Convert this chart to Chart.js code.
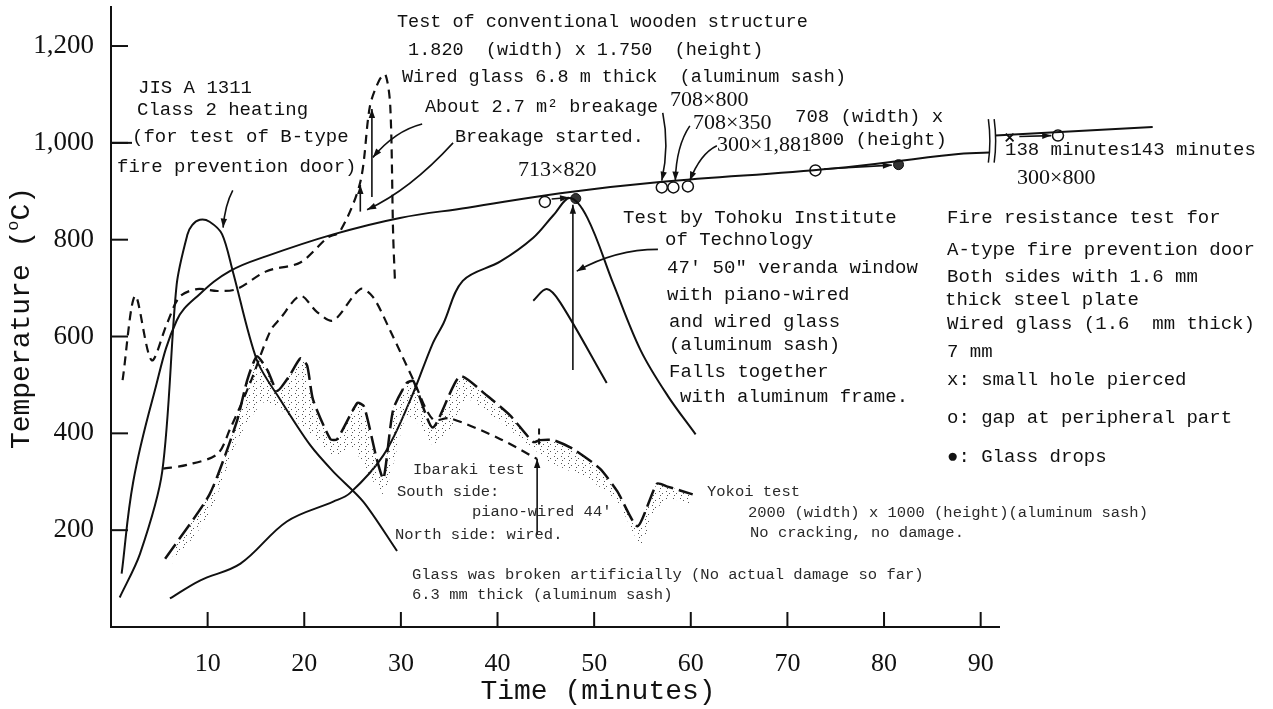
<!DOCTYPE html>
<html>
<head>
<meta charset="utf-8">
<script src="https://cdn.jsdelivr.net/npm/chart.js@4.4.1/dist/chart.umd.min.js"></script>
<style>
  html, body { margin: 0; padding: 0; background: #fff; }
  #wrap { width: 1273px; height: 709px; }
</style>
</head>
<body>
<div id="wrap"><canvas id="myChart" width="1273" height="709"></canvas></div>
<script>
// axis ticks
const xTicks = [10, 20, 30, 40, 50, 60, 70, 80, 90];
const yTicks = [200, 400, 600, 800, 1000, 1200];
const xAxisEnd = 92;

// standard heating curve (solid), before and after the axis break
const stdTime = [1.1, 2.3, 4.4, 6.8, 9.2, 12.3, 16.1, 23, 29.9, 36.9, 46.5, 56.8, 74.7, 87.2, 90.9];
const stdTemp = [110, 300, 478, 633, 688, 735, 766, 811, 845, 866, 896, 919, 947, 976, 980];
const stdTimeB = [91.5, 107.8];
const stdTempB = [1015, 1033];

// JIS A 1311 class 2 heating
const cls2Time = [0.9, 3.0, 5.3, 6.8, 7.9, 8.4, 9.2, 10.2, 11.5, 12.6, 15.1, 17.5, 20.6, 23, 26.1, 29.6];
const cls2Temp = [61, 151, 321, 708, 810, 830, 841, 837, 811, 735, 551, 470, 376, 321, 259, 157];

// conventional wooden structure test (dashed)
const woodTime = [1.2, 2.5, 4.2, 5.8, 7.1, 8.9, 11, 13, 16.1, 19.6, 22.4, 23.7, 25.8, 26.8, 27.8, 28.4, 28.9, 29.2, 29.4];
const woodTemp = [510, 684, 551, 627, 682, 698, 694, 698, 735, 753, 804, 817, 919, 1076, 1131, 1141, 1076, 810, 708];

// glass broken artificially (dashed)
const brokeTime = [5.4, 7.9, 11, 12.3, 14.4, 16.5, 17.5, 19.6, 21.3, 23, 25.8, 27.1, 28.9, 31.3, 33.3, 35.1, 40.3, 44.1];
const brokeTemp = [327, 335, 357, 408, 504, 612, 637, 684, 651, 633, 698, 682, 612, 510, 429, 431, 388, 347];

// Ibaraki / Yokoi test, upper (long dash) and lower edge of stippled band
const ibaTime = [5.6, 10.2, 13, 14.1, 15.1, 16.2, 17.2, 18.5, 19.6, 20.3, 20.9, 22.7, 23.4, 25.5, 26.2, 27.5, 28.2, 29.2, 30.6, 31.3, 33.3, 36.1, 38.9, 41.3, 43.7, 44.4, 45.8, 47.8, 50.6, 52.4, 54.5, 56.5, 57.6, 60.2];
const ibaTemp = [141, 274, 423, 510, 559, 530, 488, 520, 555, 540, 470, 388, 388, 463, 455, 347, 306, 449, 504, 508, 412, 518, 478, 437, 382, 386, 386, 368, 327, 280, 208, 296, 290, 274];
const bandTime = [6.4, 10.2, 13, 15.7, 17.5, 20.9, 23, 25, 26.5, 28.2, 29.2, 30.6, 32, 33.3, 35.1, 36.9, 40.3, 43.7, 45.4, 49.3, 52.4, 54.8, 56.1, 57.6, 59.9];
const bandTemp = [131, 233, 382, 463, 449, 396, 355, 368, 321, 274, 335, 437, 416, 376, 408, 470, 423, 368, 341, 306, 259, 171, 233, 265, 253];

// Tohoku Institute of Technology test
const tohoTime = [6.1, 9.2, 13.4, 18.2, 23, 24.7, 28.2, 31, 33.3, 34.4, 36.4, 40.3, 43.7, 45.8, 47.5, 49.3, 52, 54.8, 57.6, 60.5];
const tohoTemp = [59, 96, 131, 218, 259, 276, 355, 470, 586, 627, 715, 755, 804, 851, 886, 845, 708, 572, 478, 398];
const toho2Time = [43.7, 45.1, 46.5, 51.3];
const toho2Temp = [674, 698, 670, 504];

// event markers on the standard curve
const gapTime = [44.9, 57.0, 58.2, 59.7, 72.9, 98];
const gapTemp = [878, 908, 908, 910, 943, 1015];
const dropTime = [48.1, 81.5];
const dropTemp = [885, 955];
const holeTime = [93];
const holeTemp = [1011];

// arrows [t0, T0, t1, T1]
const arrows = [
  [25.8, 858, 25.8, 913],
  [27.0, 888, 27.0, 1070],
  [47.8, 531, 47.8, 872],
  [44.1, 192, 44.1, 347],
  [45.6, 884, 47.4, 887],
  [73.8, 946, 80.8, 954],
  [94.0, 1013, 97.3, 1015]
];
// curved leaders [t0, T0, tc, Tc, t1, T1]
const leaders = [
  [12.6, 902, 11.8, 872, 11.6, 825],
  [32.2, 1039, 29.4, 1025, 27.1, 970],
  [35.4, 1000, 30.9, 902, 26.5, 862],
  [57.1, 1062, 57.8, 994, 57.0, 922],
  [59.9, 1035, 58.5, 994, 58.4, 922],
  [62.7, 994, 61.0, 978, 59.9, 922],
  [56.6, 780, 52.2, 780, 48.2, 735]
];

const pts = (xs, ys) => xs.map((v, i) => ({x: v, y: ys[i]}));

function stipple() {
  const c = document.createElement('canvas');
  c.width = 7; c.height = 7;
  const g = c.getContext('2d');
  g.fillStyle = '#555';
  g.fillRect(1, 1, 1, 1);
  g.fillRect(4, 3, 1, 1);
  g.fillRect(2, 5, 1, 1);
  return g.createPattern(c, 'repeat');
}

const ink = '#111';
const mono = 'Liberation Mono';
const serif = 'Liberation Serif';

const lineDs = (data, extra) => Object.assign({
  data: data, borderColor: ink, borderWidth: 2, pointRadius: 0,
  tension: 0.3, fill: false
}, extra);

const texts = [
  // [text, x, y, size, family]
  ['Test of conventional wooden structure', 397, 22, 18.5, mono],
  [' 1.820  (width) x 1.750  (height)', 397, 50, 18.5, mono],
  ['Wired glass 6.8 m thick  (aluminum sash)', 402, 77, 18.5, mono],
  ['About 2.7 m\u00b2 breakage', 425, 107, 18.5, mono],
  ['Breakage started.', 455, 137, 18.5, mono],
  ['JIS A 1311', 138, 88, 19, mono],
  ['Class 2 heating', 137, 110, 19, mono],
  ['(for test of B-type', 132, 137, 19, mono],
  ['fire prevention door)', 117, 167, 19, mono],
  ['713\u00d7820', 518, 170, 22, serif],
  ['708\u00d7800', 670, 100, 22, serif],
  ['708\u00d7350', 693, 123, 22, serif],
  ['300\u00d71,881', 717, 145, 22, serif],
  ['708 (width) x', 795, 117, 19, mono],
  ['800 (height)', 810, 140, 19, mono],
  ['138 minutes143 minutes', 1005, 150, 19, mono],
  ['300\u00d7800', 1017, 178, 22, serif],
  ['Test by Tohoku Institute', 623, 218, 19, mono],
  ['of Technology', 665, 240, 19, mono],
  ['47\' 50" veranda window', 667, 268, 19, mono],
  ['with piano-wired', 667, 295, 19, mono],
  ['and wired glass', 669, 322, 19, mono],
  ['(aluminum sash)', 669, 345, 19, mono],
  ['Falls together', 669, 372, 19, mono],
  ['with aluminum frame.', 680, 397, 19, mono],
  ['Fire resistance test for', 947, 218, 19, mono],
  ['A-type fire prevention door', 947, 250, 19, mono],
  ['Both sides with 1.6 mm', 947, 277, 19, mono],
  ['thick steel plate', 945, 300, 19, mono],
  ['Wired glass (1.6  mm thick)', 947, 324, 19, mono],
  ['7 mm', 947, 352, 19, mono],
  ['x: small hole pierced', 947, 380, 19, mono],
  ['o: gap at peripheral part', 947, 418, 19, mono],
  ['\u25cf: Glass drops', 947, 457, 19, mono],
  ['Ibaraki test', 413, 470, 15.5, mono],
  ['South side:', 397, 492, 15.5, mono],
  ['piano-wired 44\'', 472, 512, 15.5, mono],
  ['North side: wired.', 395, 535, 15.5, mono],
  ['Yokoi test', 707, 492, 15.5, mono],
  ['2000 (width) x 1000 (height)(aluminum sash)', 748, 513, 15.5, mono],
  ['No cracking, no damage.', 750, 533, 15.5, mono],
  ['Glass was broken artificially (No actual damage so far)', 412, 575, 15.5, mono],
  ['6.3 mm thick (aluminum sash)', 412, 595, 15.5, mono]
];

const drawings = {
  id: 'drawings',
  afterDatasetsDraw(chart) {
    const {ctx, chartArea, scales: {x, y}} = chart;
    const P = (t, v) => [x.getPixelForValue(t), y.getPixelForValue(v)];
    ctx.save();
    ctx.strokeStyle = ink;
    ctx.fillStyle = ink;
    ctx.lineWidth = 2;

    // x axis line (stops at the break)
    const ax0 = P(0, 0), ax1 = P(xAxisEnd, 0);
    ctx.beginPath(); ctx.moveTo(ax0[0] - 1, ax0[1]); ctx.lineTo(ax1[0], ax1[1]); ctx.stroke();

    // inward tick marks
    xTicks.forEach(t => {
      const px = x.getPixelForValue(t);
      ctx.beginPath(); ctx.moveTo(px, chartArea.bottom); ctx.lineTo(px, chartArea.bottom - 15); ctx.stroke();
    });
    yTicks.forEach(v => {
      const py = y.getPixelForValue(v);
      ctx.beginPath(); ctx.moveTo(chartArea.left, py); ctx.lineTo(chartArea.left + 17, py); ctx.stroke();
    });

    // axis break mark
    ctx.lineWidth = 1.5;
    [90.9, 91.5].forEach(t => {
      const a = P(t, 1049), b = P(t, 959);
      ctx.beginPath(); ctx.moveTo(a[0] - 1, a[1]); ctx.quadraticCurveTo(a[0] + 2, (a[1] + b[1]) / 2, b[0] - 1, b[1]); ctx.stroke();
    });

    // arrows
    ctx.lineWidth = 1.6;
    arrows.forEach(a => {
      const p0 = P(a[0], a[1]), p1 = P(a[2], a[3]);
      ctx.beginPath(); ctx.moveTo(p0[0], p0[1]); ctx.lineTo(p1[0], p1[1]); ctx.stroke();
      head(ctx, p0, p1);
    });
    leaders.forEach(l => {
      const p0 = P(l[0], l[1]), pc = P(l[2], l[3]), p1 = P(l[4], l[5]);
      ctx.beginPath(); ctx.moveTo(p0[0], p0[1]); ctx.quadraticCurveTo(pc[0], pc[1], p1[0], p1[1]); ctx.stroke();
      head(ctx, pc, p1);
    });
    // short dashed mark at 44 min
    const d0 = P(44.3, 410), d1 = P(44.3, 372);
    ctx.setLineDash([6, 4]); ctx.lineWidth = 2;
    ctx.beginPath(); ctx.moveTo(d0[0], d0[1]); ctx.lineTo(d1[0], d1[1]); ctx.stroke();
    ctx.setLineDash([]);
    // leader from the 1000 tick to its text
    const k = P(0, 1000);
    ctx.beginPath(); ctx.moveTo(k[0], k[1]); ctx.lineTo(k[0] + 21, k[1]); ctx.stroke();

    // texts
    ctx.textBaseline = 'middle';
    ctx.textAlign = 'left';
    texts.forEach(t => {
      ctx.font = t[3] + 'px "' + t[4] + '"';
      ctx.fillStyle = t[3] < 16 ? '#2a2a2a' : ink;
      ctx.fillText(t[0], t[1], t[2]);
    });

    // axis titles
    ctx.fillStyle = ink;
    ctx.font = '28px "' + mono + '"';
    ctx.textAlign = 'center';
    ctx.fillText('Time (minutes)', 598, 692);
    ctx.save();
    ctx.translate(22, 318);
    ctx.rotate(-Math.PI / 2);
    ctx.textAlign = 'left';
    const a1 = 'Temperature (', a2 = 'C)';
    const w1 = ctx.measureText(a1).width, w2 = ctx.measureText(a2).width;
    ctx.font = '17px "' + mono + '"';
    const ws = ctx.measureText('o').width;
    const start = -(w1 + ws + w2) / 2;
    ctx.font = '28px "' + mono + '"';
    ctx.fillText(a1, start, 0);
    ctx.font = '17px "' + mono + '"';
    ctx.fillText('o', start + w1, -9);
    ctx.font = '28px "' + mono + '"';
    ctx.fillText(a2, start + w1 + ws, 0);
    ctx.restore();

    ctx.restore();
  }
};

function head(ctx, from, to) {
  const ang = Math.atan2(to[1] - from[1], to[0] - from[0]);
  const L = 9, W = 3.2;
  ctx.beginPath();
  ctx.moveTo(to[0], to[1]);
  ctx.lineTo(to[0] - L * Math.cos(ang) + W * Math.sin(ang), to[1] - L * Math.sin(ang) - W * Math.cos(ang));
  ctx.lineTo(to[0] - L * Math.cos(ang) - W * Math.sin(ang), to[1] - L * Math.sin(ang) + W * Math.cos(ang));
  ctx.closePath();
  ctx.fill();
}

const config = {
  type: 'line',
  data: {
    datasets: [
      lineDs(pts(stdTime, stdTemp), {tension: 0.4}),
      lineDs(pts(stdTimeB, stdTempB), {tension: 0}),
      lineDs(pts(cls2Time, cls2Temp), {tension: 0.3}),
      lineDs(pts(woodTime, woodTemp), {borderDash: [9, 6], borderWidth: 2.2}),
      lineDs(pts(brokeTime, brokeTemp), {borderDash: [9, 6], borderWidth: 2.2}),
      lineDs(pts(ibaTime, ibaTemp), {borderDash: [18, 6], borderWidth: 2.5, fill: '+1', backgroundColor: stipple(), tension: 0.2}),
      lineDs(pts(bandTime, bandTemp), {borderWidth: 0, tension: 0.2}),
      lineDs(pts(tohoTime, tohoTemp), {tension: 0.35}),
      lineDs(pts(toho2Time, toho2Temp), {tension: 0.35}),
      {data: pts(gapTime, gapTemp), showLine: false, pointRadius: 5.5, pointStyle: 'circle',
        pointBackgroundColor: '#fff', pointBorderColor: ink, pointBorderWidth: 1.5},
      {data: pts(dropTime, dropTemp), showLine: false, pointRadius: 5, pointStyle: 'circle',
        pointBackgroundColor: '#333', pointBorderColor: ink, pointBorderWidth: 1},
      {data: pts(holeTime, holeTemp), showLine: false, pointRadius: 5.5, pointStyle: 'crossRot',
        pointBorderColor: ink, pointBorderWidth: 1.8}
    ]
  },
  options: {
    responsive: false,
    animation: false,
    devicePixelRatio: 1,
    layout: {padding: {left: 0, right: 118.4, top: 0, bottom: 0}},
    plugins: {
      legend: {display: false},
      tooltip: {enabled: false}
    },
    scales: {
      x: {
        type: 'linear',
        min: 0,
        max: 108,
        afterBuildTicks: s => { s.ticks = xTicks.map(v => ({value: v})); },
        afterFit: s => { s.height = 82; s.paddingLeft = 0; s.paddingRight = 0; },
        grid: {display: false},
        border: {display: false},
        ticks: {
          autoSkip: false, maxRotation: 0, padding: 14, color: ink,
          font: {family: serif, size: 26}
        }
      },
      y: {
        type: 'linear',
        min: 0,
        max: 1280,
        afterBuildTicks: s => { s.ticks = yTicks.map(v => ({value: v})); },
        afterFit: s => { s.width = 111; s.paddingTop = 0; s.paddingBottom = 0; },
        grid: {display: false},
        border: {display: true, color: ink, width: 2},
        ticks: {
          padding: 9, color: ink,
          font: {family: serif, size: 27},
          callback: v => v.toLocaleString('en-US')
        }
      }
    }
  },
  plugins: [drawings]
};

let myChart = new Chart(document.getElementById('myChart'), config);
</script>
</body>
</html>
